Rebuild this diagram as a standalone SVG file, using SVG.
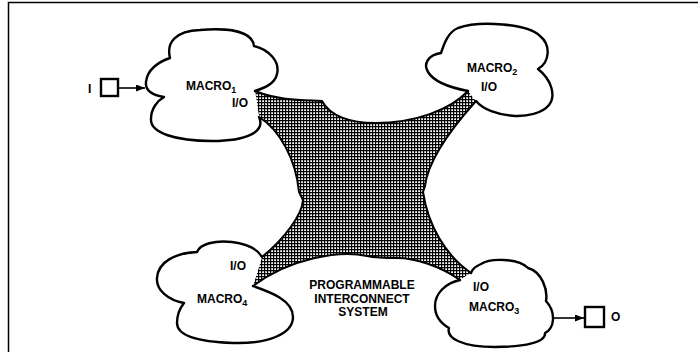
<svg xmlns="http://www.w3.org/2000/svg" width="698" height="352" viewBox="0 0 698 352">
<style>
.cloud{fill:#fff;stroke:#000;stroke-width:2.4;stroke-linejoin:round;stroke-linecap:round}
.edge{fill:none;stroke:#000;stroke-width:2;stroke-linecap:round}
.t{font-family:"Liberation Sans",Arial,sans-serif;font-weight:bold;font-size:12px;fill:#000}
.s{font-size:9px}
.box{fill:#fff;stroke:#000;stroke-width:2.4}
.wire{fill:none;stroke:#000;stroke-width:1.6}
</style>
<defs>
<pattern id="grid" width="3" height="3" patternUnits="userSpaceOnUse">
<rect width="3" height="3" fill="#fff"/>
<path d="M0,0.6H3M0.6,0V3" stroke="#000" stroke-width="1.2"/>
</pattern>
<marker id="ah" markerWidth="9" markerHeight="7" refX="9" refY="3.5" orient="auto" markerUnits="userSpaceOnUse">
<path d="M0,0L9,3.5L0,7Z" fill="#000"/>
</marker>
</defs>
<path d="M8.5,352V2.5H698" fill="none" stroke="#000" stroke-width="1.5"/>
<g id="interconnect">
<path d="M255,91 C280,101 305,100 322,101 C330,116 350,123 375,123 C415,123 450,110 468,91 L476,101 C450,130 428,160 425,186 L423,192 C428,225 445,255 471,273 L460,280 C440,266 415,258 397,258 C385,258 372,257 367,256 C340,250 290,258 253,286 L262,257 C285,238 302,215 303,200 L299,192 C296,160 280,130 259,117 Z" fill="url(#grid)"/>
<path class="edge" d="M255,91 C280,101 305,100 322,101 C330,116 350,123 375,123 C415,123 450,110 468,91"/>
<path class="edge" d="M476,101 C450,130 428,160 425,186 L423,192 C428,225 445,255 471,273"/>
<path class="edge" d="M460,280 C440,266 415,258 397,258 C385,258 372,257 367,256 C340,250 290,258 253,286"/>
<path class="edge" d="M262,257 C285,238 302,215 303,200 L299,192 C296,160 280,130 259,117"/>
<text class="t" text-anchor="middle" x="362" y="289">PROGRAMMABLE</text>
<text class="t" text-anchor="middle" x="362" y="303">INTERCONNECT</text>
<text class="t" text-anchor="middle" x="363" y="316">SYSTEM</text>
</g>
<g id="macro1">
<path class="cloud" d="M259,117 C266,132 246,141 212,141 C176,141 150,133 151,119 C151,109 157,101 164,97 C152,95 145,90 146,82 C147,70 158,62 170,58 C166,42 176,31 200,30 C225,28 252,30 254,46 C270,50 280,62 277,74 C275,84 264,88 255,91"/>
<text class="t" x="186" y="90">MACRO<tspan class="s" dy="3">1</tspan></text>
<text class="t" x="232" y="107">I/O</text>
</g>
<g id="macro2">
<path class="cloud" d="M476,101 C490,118 535,122 549,105 C556,96 552,80 538,69 C550,62 551,45 540,36 C528,24 480,20 458,28 C448,32 444,44 441,53 C428,55 423,64 428,72 C434,82 452,88 468,91"/>
<text class="t" x="467" y="72">MACRO<tspan class="s" dy="3">2</tspan></text>
<text class="t" x="481" y="91">I/O</text>
</g>
<g id="macro3">
<path class="cloud" d="M460,280 C446,283 435,293 435,306 C435,317 442,324 449,328 C446,338 462,347 495,347 C525,347 546,342 545,333 C555,328 556,312 546,301 C548,290 542,272 528,268 C518,258 490,258 481,264 C476,266 472,270 471,273"/>
<text class="t" x="469" y="311">MACRO<tspan class="s" dy="3">3</tspan></text>
<text class="t" x="473" y="291">I/O</text>
</g>
<g id="macro4">
<path class="cloud" d="M253,286 C270,292 293,300 293,317 C293,334 268,344 233,343 C203,342 177,337 177,323 C177,315 180,308 184,303 C168,300 156,290 157,278 C158,262 175,253 197,252 C200,244 215,240 232,242 C248,244 258,250 262,257"/>
<text class="t" x="197" y="303">MACRO<tspan class="s" dy="3">4</tspan></text>
<text class="t" x="230" y="270">I/O</text>
</g>
<g id="input">
<rect class="box" x="101" y="79" width="17" height="17"/>
<text class="t" x="88" y="93">I</text>
</g>
<g id="output">
<rect class="box" x="585" y="307" width="19" height="20"/>
<text class="t" x="611" y="321">O</text>
</g>
<g id="connectors">
<path class="wire" d="M118,88H145" marker-end="url(#ah)"/>
<path class="wire" d="M553,318H584" marker-end="url(#ah)"/>
</g>
</svg>
